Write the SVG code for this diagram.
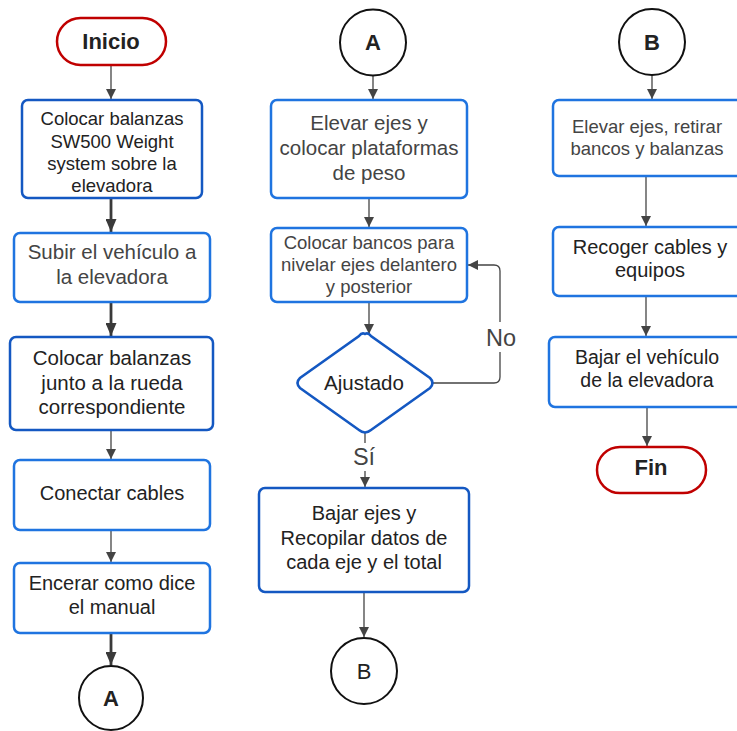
<svg xmlns="http://www.w3.org/2000/svg" width="737" height="731" viewBox="0 0 737 731">
<style>
text{font-family:"Liberation Sans",Arial,sans-serif;text-anchor:middle;fill:#222}
.g{fill:#444}
.b{font-weight:bold}
.box{fill:#fff;stroke:#1f74e0;stroke-width:2.5}
.dk{stroke:#1458c2}
.pill{fill:#fff;stroke:#c00000;stroke-width:2.5}
.circ{fill:#fff;stroke:#111;stroke-width:2}
.c{fill:none;stroke:#444;stroke-width:1.3}
.t{stroke-width:2.8;stroke:#3a3a3a}
</style>
<defs>
<marker id="ah" viewBox="0 0 10 10" refX="10" refY="5" markerWidth="10" markerHeight="10" markerUnits="userSpaceOnUse" orient="auto"><path d="M0,0 L10,5 L0,10 z" fill="#444"/></marker>
<marker id="ahb" viewBox="0 0 10 10" refX="10" refY="5" markerWidth="13" markerHeight="11" markerUnits="userSpaceOnUse" orient="auto" preserveAspectRatio="none"><path d="M0,0 L10,5 L0,10 z" fill="#3a3a3a"/></marker>
</defs>
<g id="connectors">
<line class="c" x1="111" y1="66" x2="111" y2="99" marker-end="url(#ah)"/>
<line class="c t" x1="111" y1="199" x2="111" y2="232" marker-end="url(#ahb)"/>
<line class="c t" x1="111" y1="303" x2="111" y2="336" marker-end="url(#ahb)"/>
<line class="c" x1="111" y1="431" x2="111" y2="459" marker-end="url(#ah)"/>
<line class="c" x1="111" y1="531" x2="111" y2="562" marker-end="url(#ah)"/>
<line class="c t" x1="111" y1="634" x2="111" y2="665" marker-end="url(#ahb)"/>
<line class="c" x1="373" y1="76" x2="373" y2="99" marker-end="url(#ah)"/>
<line class="c" x1="369" y1="199" x2="369" y2="227" marker-end="url(#ah)"/>
<line class="c" x1="369" y1="303" x2="369" y2="334" marker-end="url(#ah)"/>
<path class="c" d="M433,383 H494 Q500,383 500,377 V271 Q500,265 494,265 H468" marker-end="url(#ah)"/>
<line class="c" x1="365" y1="433" x2="365" y2="487" marker-end="url(#ah)"/>
<line class="c" x1="364" y1="593" x2="364" y2="637" marker-end="url(#ah)"/>
<line class="c" x1="652" y1="75" x2="652" y2="99" marker-end="url(#ah)"/>
<line class="c" x1="646" y1="177" x2="646" y2="226" marker-end="url(#ah)"/>
<line class="c" x1="646" y1="297" x2="646" y2="336" marker-end="url(#ah)"/>
<line class="c" x1="647" y1="408" x2="647" y2="446" marker-end="url(#ah)"/>
<rect x="484" y="322" width="34" height="30" fill="#fff"/>
<text class="g" x="501" y="346" font-size="23.5">No</text>
<rect x="350" y="443" width="30" height="28" fill="#fff"/>
<text class="g" x="364" y="465" font-size="23.5">Sí</text>
</g>
<g id="inicio">
<rect class="pill" x="57" y="18" width="109" height="47" rx="23.5"/>
<text class="b" x="111" y="49" font-size="22" fill="#111">Inicio</text>
</g>
<g id="n1">
<rect class="box dk" x="22" y="100" width="180" height="98" rx="6"/>
<text x="112" y="125" font-size="18.5">Colocar balanzas</text>
<text x="112" y="148" font-size="18.5">SW500 Weight</text>
<text x="112" y="170" font-size="18.5">system sobre la</text>
<text x="112" y="192" font-size="18.5">elevadora</text>
</g>
<g id="n2">
<rect class="box" x="14" y="233" width="196" height="69" rx="6"/>
<text class="g" x="112" y="259" font-size="20.5">Subir el vehículo a</text>
<text class="g" x="112" y="284" font-size="20.5">la elevadora</text>
</g>
<g id="n3">
<rect class="box dk" x="10" y="337" width="203" height="93" rx="6"/>
<text x="112" y="365" font-size="20.5">Colocar balanzas</text>
<text x="112" y="390" font-size="20.5">junto a la rueda</text>
<text x="112" y="414" font-size="20.5">correspondiente</text>
</g>
<g id="n4">
<rect class="box" x="14" y="460" width="196" height="70" rx="6"/>
<text x="112" y="500" font-size="20">Conectar cables</text>
</g>
<g id="n5">
<rect class="box" x="14" y="563" width="196" height="70" rx="6"/>
<text x="112" y="590" font-size="20">Encerar como dice</text>
<text x="112" y="614" font-size="20">el manual</text>
</g>
<g id="connA1">
<circle class="circ" cx="111" cy="698" r="32"/>
<text class="b" x="111" y="706" font-size="22" fill="#111">A</text>
</g>
<g id="connA2">
<circle class="circ" cx="373" cy="42.5" r="33"/>
<text class="b" x="373" y="50" font-size="22" fill="#111">A</text>
</g>
<g id="m1">
<rect class="box" x="271" y="100" width="196" height="98" rx="6"/>
<text class="g" x="369" y="130" font-size="20.5">Elevar ejes y</text>
<text class="g" x="369" y="155" font-size="20.5">colocar plataformas</text>
<text class="g" x="369" y="180" font-size="20.5">de peso</text>
</g>
<g id="m2">
<rect class="box" x="271" y="228" width="196" height="74" rx="6"/>
<text class="g" x="369" y="249" font-size="18.5">Colocar bancos para</text>
<text class="g" x="369" y="271" font-size="18.5">nivelar ejes delantero</text>
<text class="g" x="369" y="293" font-size="18.5">y posterior</text>
</g>
<g id="decision">
<path d="M365,334 Q368,332 371,336 L430,378 Q435,383 430,388 L371,430 Q365,435 359,430 L300,388 Q295,383 300,378 L359,336 Q362,332 365,334 z" fill="#fff" stroke="#1458c2" stroke-width="2.5"/>
<text x="364" y="390" font-size="20.5">Ajustado</text>
</g>
<g id="m3">
<rect class="box dk" x="259" y="488" width="210" height="104" rx="6"/>
<text x="364" y="520" font-size="20">Bajar ejes y</text>
<text x="364" y="545" font-size="20">Recopilar datos de</text>
<text x="364" y="569" font-size="20">cada eje y el total</text>
</g>
<g id="connB1">
<circle class="circ" cx="364" cy="671" r="33"/>
<text x="364" y="679" font-size="22" fill="#111">B</text>
</g>
<g id="connB2">
<circle class="circ" cx="652" cy="42" r="33"/>
<text class="b" x="652" y="50" font-size="22" fill="#111">B</text>
</g>
<g id="r1">
<rect class="box" x="553" y="100" width="192" height="76" rx="6"/>
<text class="g" x="647" y="133" font-size="18.5">Elevar ejes, retirar</text>
<text class="g" x="647" y="155" font-size="18.5">bancos y balanzas</text>
</g>
<g id="r2">
<rect class="box" x="553" y="227" width="192" height="69" rx="6"/>
<text x="650" y="254" font-size="20">Recoger cables y</text>
<text x="650" y="277" font-size="20">equipos</text>
</g>
<g id="r3">
<rect class="box" x="549" y="337" width="196" height="70" rx="6"/>
<text x="647" y="364" font-size="19.5">Bajar el vehículo</text>
<text x="647" y="387" font-size="19.5">de la elevadora</text>
</g>
<g id="fin">
<rect class="pill" x="597" y="447" width="109" height="46" rx="23"/>
<text class="b" x="651" y="475" font-size="22" fill="#111">Fin</text>
</g>
</svg>
